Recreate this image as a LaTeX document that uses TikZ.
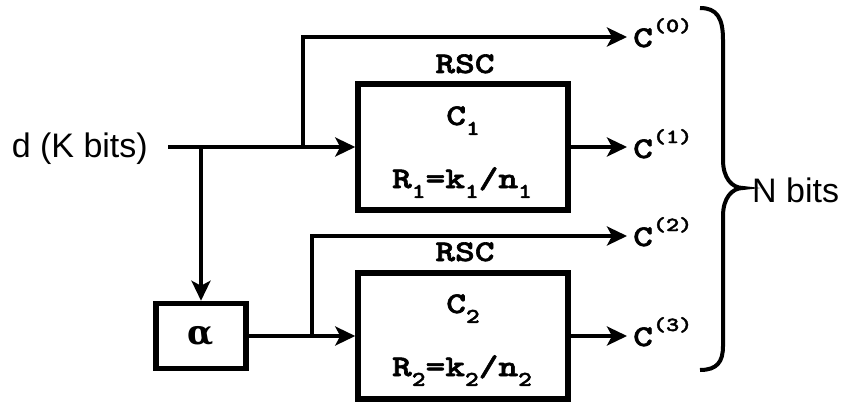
\documentclass[tikz,border=0pt]{standalone}
\usepackage{fontspec}
\setmainfont{Liberation Sans}
\newfontfamily\slab{lmmonolt10-bold.otf}[FakeStretch=1.25,FakeBold=2]
\newfontfamily\grk{DejaVu Serif}
\usetikzlibrary{arrows.meta}
\newcommand\mysub[1]{\raisebox{-0.33em}{\fontsize{21}{21}\selectfont #1}}
\newcommand\mysup[1]{\raisebox{0.5em}{\fontsize{20}{20}\selectfont #1}}
\tikzset{
  conn/.style={line width=3.5pt},
  arr/.style={conn, -{Stealth[length=20pt,width=19pt,inset=5pt]}},
  blockbox/.style={draw, line width=5.5pt, minimum width=210pt, minimum height=126pt, inner sep=0pt},
  abox/.style={draw, line width=5.5pt, minimum width=90pt, minimum height=65pt, inner sep=0pt},
  lbl/.style={inner sep=0pt, font=\slab\fontsize{30}{30}\selectfont},
  sans/.style={inner sep=0pt, font=\fontsize{34}{34}\selectfont},
}
\begin{document}
\begin{tikzpicture}[x=1pt,y=-1pt]
\useasboundingbox (0,0) rectangle (845,404);
% blocks
\node[blockbox] (b1) at (463,147) {};
\node[blockbox] (b2) at (463,336) {};
\node[abox] (al) at (201,336) {\grk\bfseries\fontsize{34}{34}\selectfont α};
% labels in blocks
\node[lbl, anchor=base] (rsc1) at (465,73) {RSC};
\node[lbl, anchor=base] (c1n) at (463,125) {C\mysub{1}};
\node[lbl, anchor=base] (r1) at (462,188) {R\mysub{1}=k\mysub{1}/n\mysub{1}};
\node[lbl, anchor=base] (rsc2) at (465,261) {RSC};
\node[lbl, anchor=base] (c2n) at (463,313) {C\mysub{2}};
\node[lbl, anchor=base] (r2) at (462,376) {R\mysub{2}=k\mysub{2}/n\mysub{2}};
% input
\node[sans, anchor=base east] (din) at (148,157) {d (K bits)};
\coordinate (in) at (168,147);
\coordinate (s1) at (201,147);
\coordinate (s2) at (303,147);
\coordinate (s3) at (312,336);
% outputs
\coordinate (t0) at (627,37);
\coordinate (t1) at (627,147);
\coordinate (t2) at (627,236);
\coordinate (t3) at (627,336);
\node[lbl, anchor=base west] (c0) at (633,47) {C\mysup{(0)}};
\node[lbl, anchor=base west] (c1) at (633,158) {C\mysup{(1)}};
\node[lbl, anchor=base west] (c2) at (633,246) {C\mysup{(2)}};
\node[lbl, anchor=base west] (c3) at (633,346) {C\mysup{(3)}};
% connectors
\draw[arr] (in) -- (b1.west);
\draw[arr] (s2) |- (t0);
\draw[arr] (s1) -- (s1 |- al.north);
\draw[arr] (al.east) -- (al.east -| b2.west);
\draw[arr] (s3) |- (t2);
\draw[arr] (b1.east) -- (t1);
\draw[arr] (b2.east) -- (t3);
% brace
\draw[line width=4pt] (700,8) .. controls (717,8) and (723,18) .. (723,40) -- (723,160)
  .. controls (723,178) and (732,188) .. (743,188)
  .. controls (732,188) and (723,198) .. (723,216) -- (723,346)
  .. controls (723,362) and (717,370) .. (700,370);
\node[sans, anchor=base west] (nb) at (752,202) {N bits};
\end{tikzpicture}
\end{document}
